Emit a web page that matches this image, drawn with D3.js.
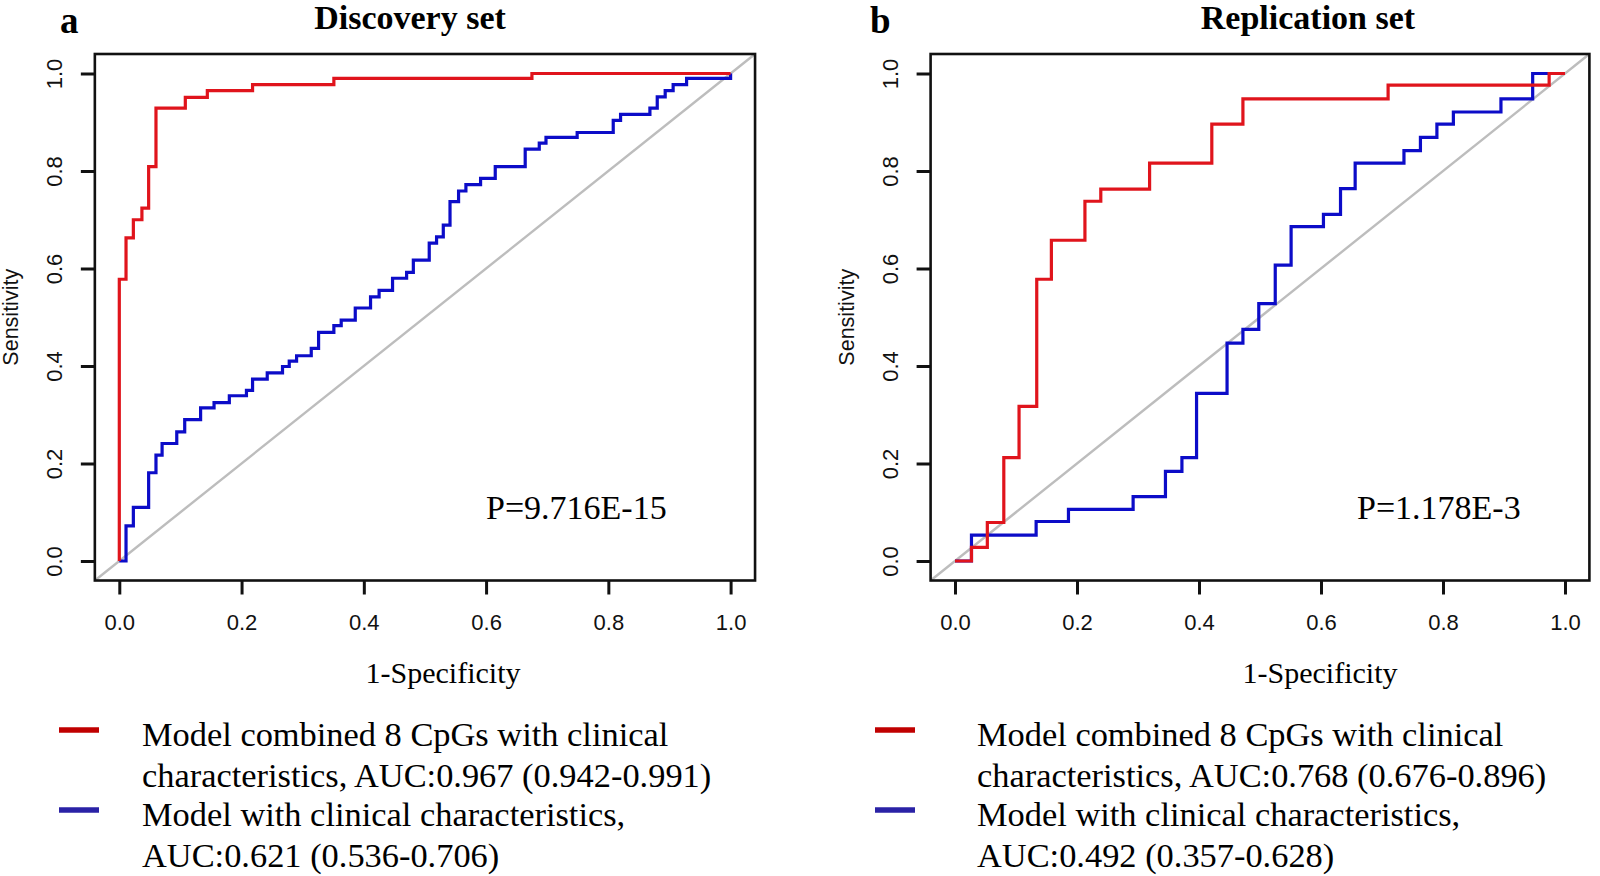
<!doctype html>
<html lang="en">
<head>
<meta charset="utf-8" />
<title>ROC curves</title>
<script src="https://cdn.jsdelivr.net/npm/d3@7"></script>
<style>
 body { margin: 0; background: #fff; }
 .serif { font-family: "Liberation Serif", "Times New Roman", serif; }
 .sans { font-family: "Liberation Sans", Arial, sans-serif; }
</style>
</head>
<body>
<svg id="fig" width="1600" height="876"></svg>
<script>
// ---- data ----
const tickValues = [0, 0.2, 0.4, 0.6, 0.8, 1.0];
const panelLetters = ["a", "b"];
const panelTitles = ["Discovery set", "Replication set"];
const pValues = ["P=9.716E-15", "P=1.178E-3"];
const combinedLegend = [
  ["Model combined 8 CpGs with clinical", "characteristics, AUC:0.967 (0.942-0.991)"],
  ["Model combined 8 CpGs with clinical", "characteristics, AUC:0.768 (0.676-0.896)"]
];
const clinicalLegend = [
  ["Model with clinical characteristics,", "AUC:0.621 (0.536-0.706)"],
  ["Model with clinical characteristics,", "AUC:0.492 (0.357-0.628)"]
];

// ROC corners [1-specificity, sensitivity]; each step goes right then up
const discoveryCombined = [[0,0],[0,0.578],[0.011,0.663],[0.023,0.700],[0.037,0.724],[0.048,0.809],
  [0.060,0.929],[0.108,0.951],[0.144,0.965],[0.218,0.977],[0.351,0.990],[0.675,1.0],[1.0,1.0]];
const discoveryClinical = [[0,0],[0.011,0.072],[0.023,0.110],[0.048,0.181],[0.060,0.217],[0.070,0.241],
  [0.094,0.265],[0.107,0.290],[0.133,0.314],[0.155,0.325],[0.180,0.339],[0.208,0.350],[0.218,0.373],
  [0.242,0.386],[0.267,0.399],[0.278,0.410],[0.290,0.421],[0.314,0.436],[0.326,0.469],[0.351,0.483],
  [0.363,0.494],[0.386,0.519],[0.411,0.542],[0.425,0.555],[0.447,0.580],[0.470,0.592],[0.481,0.617],
  [0.507,0.652],[0.519,0.665],[0.530,0.689],[0.541,0.737],[0.555,0.759],[0.567,0.772],[0.591,0.785],
  [0.615,0.809],[0.664,0.845],[0.687,0.857],[0.698,0.869],[0.749,0.879],[0.808,0.904],[0.820,0.916],
  [0.868,0.929],[0.880,0.952],[0.893,0.965],[0.906,0.977],[0.928,0.990],[1.0,1.0]];
const replicationCombined = [[0,0],[0.027,0.028],[0.053,0.079],[0.080,0.212],[0.105,0.317],[0.134,0.578],
  [0.158,0.658],[0.213,0.738],[0.239,0.763],[0.319,0.816],[0.421,0.896],[0.472,0.948],[0.710,0.976],
  [0.974,1.0],[1.0,1.0]];
const replicationClinical = [[0,0],[0.027,0.053],[0.133,0.081],[0.186,0.106],[0.292,0.132],[0.345,0.184],
  [0.372,0.212],[0.396,0.344],[0.446,0.447],[0.472,0.475],[0.498,0.528],[0.525,0.607],[0.551,0.686],
  [0.604,0.711],[0.632,0.764],[0.656,0.816],[0.736,0.842],[0.763,0.869],[0.790,0.896],[0.817,0.921],
  [0.895,0.948],[0.947,1.0],[1.0,1.0]];

const combinedSeries = [discoveryCombined, replicationCombined];
const clinicalSeries = [discoveryClinical, replicationClinical];

// ---- layout ----
const panels = [
  { x0: 119.3, x1: 730.6, letterX: 60, titleX: 410, labelX: 443, pX: 486, legendBarX: 59, legendTextX: 142 },
  { x0: 955, x1: 1565, letterX: 870, titleX: 1308, labelX: 1320, pX: 1357, legendBarX: 875, legendTextX: 977 }
];
const yZero = 561, yOne = 73.5;
const redCurve = "#e0141c", blueCurve = "#0c0cc8";
const redKey = "#c00000", blueKey = "#2a22a6";

const svg = d3.select("#fig");
svg.append("rect").attr("width", 1600).attr("height", 876).attr("fill", "#fff");

panels.forEach(function(p, i) {
  const unitX = p.x1 - p.x0, unitY = yZero - yOne;
  const x = d3.scaleLinear().domain([-0.04, 1.04]).range([p.x0 - 0.04 * unitX, p.x1 + 0.04 * unitX]);
  const y = d3.scaleLinear().domain([-0.04, 1.04]).range([yZero + 0.04 * unitY, yOne - 0.04 * unitY]);
  const g = svg.append("g");

  // diagonal reference
  g.append("line")
    .attr("x1", x(-0.04)).attr("y1", y(-0.04))
    .attr("x2", x(1.04)).attr("y2", y(1.04))
    .attr("stroke", "#bdbdbd").attr("stroke-width", 2.4);

  const line = d3.line().x(d => x(d[0])).y(d => y(d[1])).curve(d3.curveStepAfter);
  g.append("path").datum(clinicalSeries[i])
    .attr("d", line).attr("fill", "none")
    .attr("stroke", blueCurve).attr("stroke-width", 3.2);
  g.append("path").datum(combinedSeries[i])
    .attr("d", line).attr("fill", "none")
    .attr("stroke", redCurve).attr("stroke-width", 3.2);

  // box
  g.append("rect")
    .attr("x", x(-0.04)).attr("y", y(1.04))
    .attr("width", x(1.04) - x(-0.04)).attr("height", y(-0.04) - y(1.04))
    .attr("fill", "none").attr("stroke", "#111").attr("stroke-width", 2.6);

  // axes
  const xAxis = g.append("g")
    .attr("transform", "translate(0," + y(-0.04) + ")")
    .call(d3.axisBottom(x).tickValues(tickValues).tickSize(14).tickFormat(d3.format(".1f")));
  const yAxis = g.append("g")
    .attr("transform", "translate(" + x(-0.04) + ",0)")
    .call(d3.axisLeft(y).tickValues(tickValues).tickSize(14).tickFormat(d3.format(".1f")));
  [xAxis, yAxis].forEach(function(a) {
    a.select(".domain").remove();
    a.selectAll(".tick line").attr("stroke", "#111").attr("stroke-width", 3);
    a.selectAll(".tick text")
      .attr("class", "sans").attr("font-size", 22).attr("fill", "#111");
  });
  xAxis.selectAll(".tick text").attr("y", 49).attr("dy", 0);
  yAxis.selectAll(".tick text")
    .attr("x", 0).attr("y", -33).attr("dy", 0)
    .attr("text-anchor", "middle").attr("transform", "rotate(-90)");

  // labels
  g.append("text").attr("class", "sans")
    .attr("transform", "translate(" + (x(-0.04) - 77) + "," + ((y(0) + y(1)) / 2) + ") rotate(-90)")
    .attr("text-anchor", "middle").attr("font-size", 21.5).attr("fill", "#111")
    .text("Sensitivity");
  g.append("text").attr("class", "serif")
    .attr("x", p.labelX).attr("y", 683).attr("text-anchor", "middle")
    .attr("font-size", 30).text("1-Specificity");
  g.append("text").attr("class", "serif")
    .attr("x", p.pX).attr("y", 519).attr("font-size", 34).text(pValues[i]);
  g.append("text").attr("class", "serif")
    .attr("x", p.letterX).attr("y", 33).attr("font-size", 37).attr("font-weight", "bold")
    .text(panelLetters[i]);
  g.append("text").attr("class", "serif")
    .attr("x", p.titleX).attr("y", 29).attr("text-anchor", "middle")
    .attr("font-size", 34).attr("font-weight", "bold").text(panelTitles[i]);

  // legend
  const keys = [
    { color: redKey, lines: combinedLegend[i], y: 746 },
    { color: blueKey, lines: clinicalLegend[i], y: 826 }
  ];
  keys.forEach(function(k) {
    g.append("line")
      .attr("x1", p.legendBarX).attr("x2", p.legendBarX + 40)
      .attr("y1", k.y - 16).attr("y2", k.y - 16)
      .attr("stroke", k.color).attr("stroke-width", 5.5);
    k.lines.forEach(function(t, j) {
      g.append("text").attr("class", "serif")
        .attr("x", p.legendTextX).attr("y", k.y + j * 40.5)
        .attr("font-size", 34.4).text(t);
    });
  });
});
</script>
</body>
</html>
